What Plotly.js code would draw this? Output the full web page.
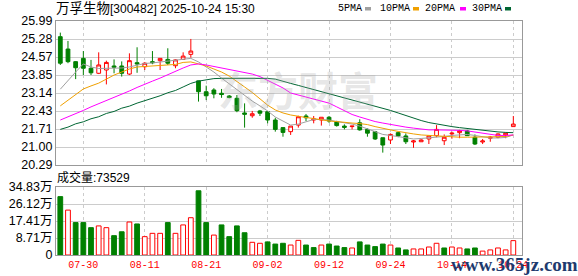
<!DOCTYPE html>
<html>
<head>
<meta charset="utf-8">
<script src="https://cdn.plot.ly/plotly-3.0.1.min.js"></script>
<style>
html,body{margin:0;padding:0;background:#fff;}
#chart{width:578px;height:276px;}
</style>
</head>
<body>
<div id="chart"></div>
<script>
// ---------------- DATA ----------------
const stockTitle = '万孚生物';
const stockCode = '[300482] 2025-10-24 15:30';
const dates = ['07-25','07-28','07-29','07-30','07-31','08-01','08-04','08-05','08-06','08-07',
  '08-08','08-11','08-12','08-13','08-14','08-15','08-18','08-19','08-20','08-21',
  '08-22','08-25','08-26','08-27','08-28','08-29','09-01','09-02','09-03','09-04',
  '09-05','09-08','09-09','09-10','09-11','09-12','09-15','09-16','09-17','09-18',
  '09-19','09-22','09-23','09-24','09-25','09-26','09-29','09-30','10-09','10-10',
  '10-13','10-14','10-15','10-16','10-17','10-20','10-21','10-22','10-23','10-24'];
const openP = [25.37,24.88,24.38,24.51,24.12,23.92,24.05,24.21,24.21,23.89,
  24.34,24.18,24.38,24.42,24.47,24.22,24.47,24.67,23.62,23.19,
  23.26,23.13,23.02,22.93,22.35,22.24,22.43,22.40,22.07,21.77,
  21.61,21.87,22.23,22.07,22.07,22.18,22.00,21.83,21.81,21.96,
  21.70,21.61,21.37,21.28,21.57,21.44,21.20,21.21,21.32,21.45,
  21.25,21.52,21.57,21.64,21.39,21.20,21.35,21.39,21.48,21.81];
const highP = [25.53,25.20,24.40,24.80,24.45,24.75,24.42,24.47,24.39,24.71,
  24.95,24.36,24.80,24.51,24.91,24.47,24.75,25.28,23.62,23.43,
  23.33,23.30,23.06,23.06,22.73,22.43,22.47,22.43,22.16,21.77,
  21.83,22.24,22.31,22.23,22.18,22.23,22.04,21.90,21.83,22.10,
  21.74,21.64,21.37,21.54,21.61,21.54,21.28,21.31,21.44,21.87,
  21.50,21.61,21.68,21.68,21.50,21.32,21.44,21.54,21.57,22.23];
const lowP = [24.25,24.32,23.69,23.85,23.85,23.89,23.48,23.92,23.79,23.85,
  23.94,24.05,24.28,24.05,24.25,24.12,24.47,24.54,22.80,22.86,
  22.93,22.95,22.93,22.38,21.77,22.16,22.23,21.94,21.61,21.41,
  21.48,21.77,22.03,21.94,21.85,21.96,21.81,21.70,21.70,21.65,
  21.41,21.28,20.78,21.12,21.39,21.12,20.97,21.21,21.12,21.39,
  21.08,21.33,21.35,21.44,21.08,21.12,21.21,21.35,21.35,21.81];
const closeP = [24.32,24.38,24.14,24.12,23.94,24.25,24.35,24.16,23.92,24.42,
  24.29,24.32,24.34,24.51,24.32,24.45,24.60,24.80,23.19,23.03,
  23.10,23.08,22.96,22.44,22.30,22.32,22.34,22.07,21.70,21.58,
  21.83,22.20,22.16,22.11,22.18,22.03,21.85,21.78,21.83,21.68,
  21.55,21.32,21.08,21.50,21.44,21.21,21.24,21.28,21.44,21.70,
  21.39,21.55,21.65,21.45,21.12,21.24,21.39,21.52,21.55,21.91];
const volume = [299000,230000,166000,166000,140000,149000,140000,99000,119000,169000,
  159000,94000,111000,111000,166000,111000,154000,191000,329000,166000,
  102000,154000,94000,149000,114000,65000,60000,67000,56000,60000,
  51000,75000,51000,38000,51000,56000,46000,38000,36000,67000,
  51000,43000,56000,51000,36000,26000,31000,31000,41000,60000,
  36000,41000,36000,31000,36000,20000,26000,36000,26000,73529];
const ma5 = [23.29,23.65,23.97,24.29,24.17,24.11,24.11,24.13,24.13,24.17,
  24.25,24.31,24.33,24.37,24.41,24.45,24.49,24.51,24.37,24.17,
  23.97,23.73,23.50,23.26,23.02,22.82,22.63,22.43,22.19,22.03,
  21.87,21.91,22.01,22.09,22.09,22.07,22.01,21.97,21.91,21.83,
  21.71,21.60,21.50,21.46,21.42,21.38,21.32,21.34,21.36,21.40,
  21.42,21.46,21.48,21.50,21.46,21.40,21.36,21.36,21.38,21.48];
const ma10 = [22.63,22.86,23.06,23.30,23.42,23.53,23.69,23.85,23.97,24.09,
  24.17,24.19,24.21,24.21,24.23,24.27,24.35,24.37,24.29,24.21,
  24.09,23.97,23.81,23.61,23.38,23.16,22.90,22.66,22.47,22.35,
  22.27,22.21,22.17,22.13,22.07,22.03,22.01,21.97,21.95,21.93,
  21.89,21.81,21.73,21.68,21.62,21.56,21.52,21.48,21.46,21.42,
  21.40,21.40,21.39,21.39,21.39,21.40,21.40,21.41,21.42,21.48];
const ma20 = [22.07,22.19,22.33,22.45,22.59,22.71,22.84,22.98,23.10,23.22,
  23.36,23.50,23.61,23.73,23.87,23.99,24.13,24.25,24.29,24.25,
  24.19,24.13,24.07,24.03,23.97,23.89,23.79,23.65,23.50,23.34,
  23.14,23.06,22.98,22.90,22.84,22.74,22.59,22.43,22.29,22.19,
  22.09,22.01,21.95,21.89,21.85,21.79,21.75,21.70,21.68,21.68,
  21.68,21.68,21.66,21.64,21.60,21.56,21.52,21.46,21.46,21.48];
const ma30 = [21.70,21.79,21.92,22.00,22.12,22.20,22.33,22.41,22.54,22.62,
  22.74,22.83,22.95,23.03,23.15,23.24,23.38,23.52,23.61,23.67,
  23.71,23.72,23.72,23.72,23.72,23.72,23.72,23.72,23.69,23.59,
  23.52,23.44,23.36,23.28,23.20,23.12,23.02,22.94,22.88,22.80,
  22.72,22.62,22.53,22.45,22.35,22.24,22.15,22.05,21.97,21.91,
  21.87,21.81,21.77,21.73,21.70,21.66,21.62,21.60,21.58,21.57];
const priceTickText = ['20.29','21.00','21.71','22.43','23.14','23.85','24.57','25.28','25.99'];
const volTickText = ['0','8.71万','17.41万','26.12万','34.83万'];
const volMax = 348300;
const xLabelDates = ['07-30','08-11','08-21','09-02','09-12','09-24','10-14','10-24'];
const maNames = ['5PMA','10PMA','20PMA','30PMA'];
const maColors = ['#a0a0a0','#f0a000','#ff00ff','#006633'];

// ---------------- BUILD ----------------
const RED = '#ff0000', GREEN = '#008000';
const idx = dates.map((d,i)=>i);
const pLo = parseFloat(priceTickText[0]), pHi = parseFloat(priceTickText[priceTickText.length-1]);
const pTickVals = priceTickText.map((t,k)=>pLo + k*(pHi-pLo)/(priceTickText.length-1));
const vTickVals = volTickText.map((t,k)=>k*volMax/(volTickText.length-1));
const xTickVals = xLabelDates.map(d=>dates.indexOf(d));

const volUp = closeP.map((c,i)=> i===0 ? c>=openP[0] : c>=closeP[i-1]);

const traces = [];
traces.push({
  type:'candlestick', x:idx, open:openP, high:highP, low:lowP, close:closeP,
  xaxis:'x', yaxis:'y', showlegend:false, hoverinfo:'skip',
  increasing:{line:{color:RED,width:1}, fillcolor:'#ffffff'},
  decreasing:{line:{color:GREEN,width:1}, fillcolor:GREEN},
  whiskerwidth:0
});
[ma5,ma10,ma20,ma30].forEach((arr,k)=>{
  traces.push({type:'scatter', mode:'lines', x:idx, y:arr, xaxis:'x', yaxis:'y',
    line:{color:maColors[k], width:1}, showlegend:false, hoverinfo:'skip'});
});
traces.push({
  type:'bar', x:idx, y:volume, xaxis:'x2', yaxis:'y2', width:0.62,
  marker:{color:volUp.map(u=>u?'#ffffff':GREEN), line:{color:volUp.map(u=>u?RED:GREEN), width:1}},
  showlegend:false, hoverinfo:'skip'
});

// plot area in pixels: x 56..522, y 21..255
const L=56, R=522, T=21, B=255;
const px = x => (x-L)/(R-L);
const py = y => (B-y)/(B-T);

const annotations = [];
const shapes = [];
annotations.push({xref:'paper', yref:'paper', x:px(54), y:py(9), xanchor:'left', yanchor:'middle',
  text:'<span style="font-size:13.5px">'+stockTitle+'</span>'+stockCode, showarrow:false,
  font:{family:'Liberation Sans, Noto Sans CJK SC', size:12, color:'#000'}});
const legX = [338, 380, 425, 471.5];
const legBox = [365, 413, 460, 505];
maNames.forEach((n,k)=>{
  annotations.push({xref:'paper', yref:'paper', x:px(legX[k]-2), y:py(9), xanchor:'left', yanchor:'middle',
    text:n, showarrow:false, font:{family:'Liberation Mono', size:10, color:'#000'}});
  shapes.push({type:'rect', xref:'paper', yref:'paper', x0:px(legBox[k]), x1:px(legBox[k]+6),
    y0:py(10.5), y1:py(7), fillcolor:maColors[k], line:{width:0}});
});
annotations.push({xref:'paper', yref:'paper', x:px(55), y:py(177.5), xanchor:'left', yanchor:'middle',
  text:'<span style="font-size:12px">成交量</span>:'+volume[volume.length-1], showarrow:false,
  font:{family:'Liberation Sans, Noto Sans CJK SC', size:12, color:'#000'}});
annotations.push({xref:'paper', yref:'paper', x:px(298), y:py(89), xanchor:'center', yanchor:'middle',
  text:'东方财富', showarrow:false,
  font:{family:'Noto Sans CJK SC', size:40, color:'rgba(170,170,170,0.3)', weight:'bold'}});
annotations.push({xref:'paper', yref:'paper', x:px(514), y:py(264), xanchor:'center', yanchor:'middle',
  text:'<b>www.365jz.com</b>', showarrow:false,
  font:{family:'Liberation Serif', size:19, color:'#1e3a6e'}});

const axisCommon = {showline:true, mirror:true, linecolor:'#999', linewidth:1, zeroline:false,
  fixedrange:true, ticks:''};
const layout = {
  width:578, height:276, margin:{l:L, r:578-R, t:T, b:276-B}, paper_bgcolor:'#fff', plot_bgcolor:'#fff',
  showlegend:false, dragmode:false, hovermode:false,
  xaxis: Object.assign({}, axisCommon, {domain:[0,1], anchor:'y', range:[-0.56,60.13],
    tickvals:xTickVals, showticklabels:false, showgrid:true, gridcolor:'#cccccc', griddash:'3px,3px', gridwidth:1,
    rangeslider:{visible:false}}),
  yaxis: Object.assign({}, axisCommon, {domain:[(B-165)/(B-T),1], anchor:'x', range:[pLo,pHi],
    tickvals:pTickVals, ticktext:priceTickText, showgrid:true, gridcolor:'#cccccc', gridwidth:1,
    tickfont:{family:'Liberation Sans', size:12.5, color:'#000'}}),
  xaxis2: Object.assign({}, axisCommon, {domain:[0,1], anchor:'y2', matches:'x', range:[-0.56,60.13],
    tickvals:xTickVals, ticktext:xLabelDates, showgrid:true, gridcolor:'#cccccc', griddash:'3px,3px', gridwidth:1,
    tickfont:{family:'Liberation Mono', size:10, color:RED}}),
  yaxis2: Object.assign({}, axisCommon, {domain:[0,(B-187)/(B-T)], anchor:'x2', range:[0,volMax],
    tickvals:vTickVals, ticktext:volTickText, showgrid:true, gridcolor:'#cccccc', gridwidth:1,
    tickfont:{family:'Liberation Sans, Noto Sans CJK SC', size:12.5, color:'#000'}}),
  annotations:annotations, shapes:shapes
};
Plotly.newPlot('chart', traces, layout, {staticPlot:true, displayModeBar:false});
</script>
</body>
</html>
